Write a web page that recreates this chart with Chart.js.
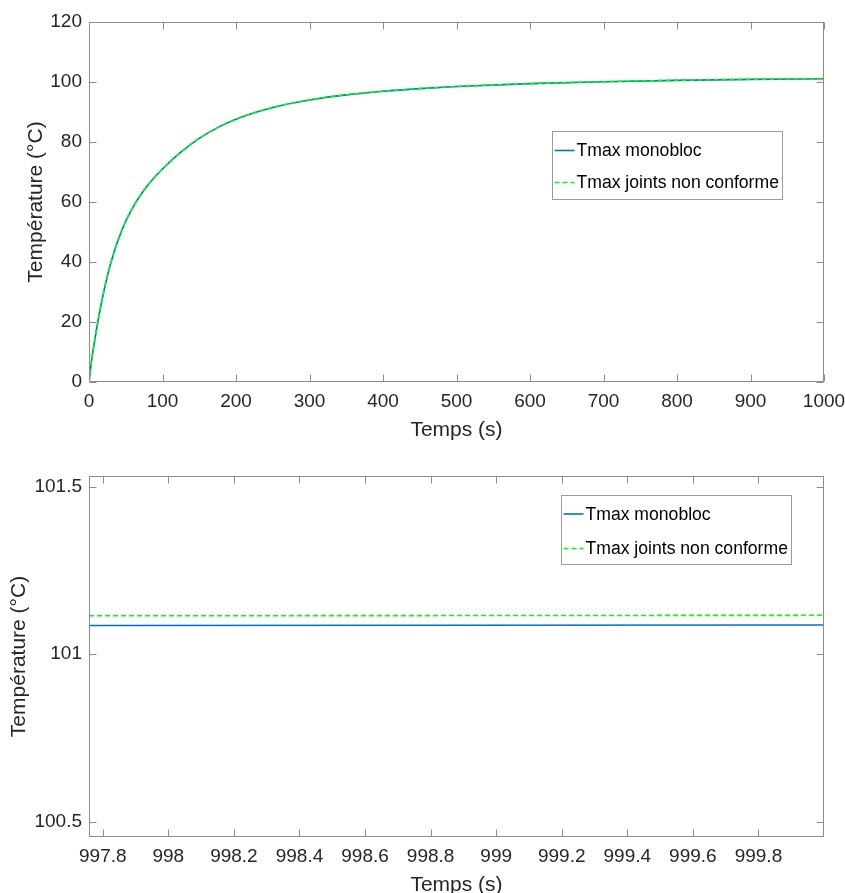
<!DOCTYPE html>
<html>
<head>
<meta charset="utf-8">
<script src="https://cdn.jsdelivr.net/npm/chart.js@4.4.0/dist/chart.umd.min.js"></script>
<style>
  html, body { margin: 0; padding: 0; background: #fff; overflow: hidden; }
  #wrap { position: relative; width: 845px; height: 893px; overflow: hidden; }
  #full { position: absolute; left: 0; top: 0; }
  #zoom { position: absolute; left: 0; top: 445px; }
</style>
</head>
<body>
<div id="wrap">
  <canvas id="full" width="845" height="445"></canvas>
  <canvas id="zoom" width="845" height="465"></canvas>
</div>
<script>
// Tmax over the whole run (time in s, temperature in °C)
const temps = [0, 4, 8, 12, 20, 30, 45, 62, 80, 100, 125, 150, 175, 200, 250, 300, 350, 400, 450, 500, 600, 700, 800, 900, 1000];
const tMonobloc = [0, 8.0, 14.2, 20.0, 30.0, 40.0, 50.8, 59.2, 65.6, 71.0, 76.6, 81.2, 84.8, 87.6, 91.5, 94.0, 95.7, 96.9, 97.8, 98.5, 99.45, 100.1, 100.55, 100.87, 101.087];
const tJoints   = [0, 8.0, 14.2, 20.0, 30.0, 40.0, 50.8, 59.2, 65.6, 71.0, 76.6, 81.2, 84.8, 87.6, 91.5, 94.0, 95.7, 96.9, 97.8, 98.5, 99.45, 100.1, 100.57, 100.9, 101.116];

// last seconds of the run
const zoomTemps = [997.758, 1000];
const zoomMonobloc = [101.0854, 101.0872];
const zoomJoints = [101.1145, 101.1160];

// tick values
const fullXTicks = [0, 100, 200, 300, 400, 500, 600, 700, 800, 900, 1000];
const fullYTicks = [0, 20, 40, 60, 80, 100, 120];
const zoomXTicks = [997.8, 998, 998.2, 998.4, 998.6, 998.8, 999, 999.2, 999.4, 999.6, 999.8];
const zoomYTicks = [100.5, 101, 101.5];

const FONT = "'Liberation Sans', Arial, Helvetica, sans-serif";
const BLUE = '#0072BD';
const GREEN = '#00FF00';
const AXIS = '#8c8c8c';
const TEXT = '#262626';

const pts = (xs, ys) => xs.map((x, i) => ({ x: x, y: ys[i] }));

// box around the plot, inward ticks on all four sides, and a boxed legend
const axesBox = {
  id: 'axesBox',
  afterDatasetsDraw(chart, args, opts) {
    const { ctx, chartArea: a, scales } = chart;
    const L = Math.round(a.left) + 0.5, R = Math.round(a.right) - 0.5;
    const T = Math.round(a.top) + 0.5, B = Math.round(a.bottom) - 0.5;
    const len = 7;
    ctx.save();
    ctx.strokeStyle = AXIS;
    ctx.lineWidth = 1;
    ctx.beginPath();
    scales.x.ticks.forEach((t, i) => {
      const px = Math.round(scales.x.getPixelForTick(i)) + 0.5;
      ctx.moveTo(px, B); ctx.lineTo(px, B - len);
      ctx.moveTo(px, T); ctx.lineTo(px, T + len);
    });
    scales.y.ticks.forEach((t, i) => {
      const py = Math.round(scales.y.getPixelForTick(i)) + 0.5;
      ctx.moveTo(L, py); ctx.lineTo(L + len, py);
      ctx.moveTo(R, py); ctx.lineTo(R - len, py);
    });
    ctx.stroke();
    ctx.strokeRect(L, T, R - L, B - T);

    // legend
    const lx = Math.round(a.left + opts.left) + 0.5;
    const ly = Math.round(a.top + opts.top) + 0.5;
    ctx.font = '17.6px ' + FONT;
    const ds = chart.data.datasets;
    const textW = Math.max(...ds.map(d => ctx.measureText(d.label).width));
    const w = Math.round(24 + textW + 4);
    const h = opts.height;
    ctx.fillStyle = '#fff';
    ctx.fillRect(lx, ly, w, h);
    ctx.strokeStyle = '#9a9a9a';
    ctx.strokeRect(lx, ly, w, h);
    ds.forEach((d, i) => {
      const ry = ly + opts.rows[i];
      ctx.strokeStyle = d.borderColor;
      ctx.lineWidth = d.borderWidth;
      ctx.setLineDash(d.borderDash || []);
      ctx.beginPath();
      ctx.moveTo(lx + 2, ry);
      ctx.lineTo(lx + 22, ry);
      ctx.stroke();
      ctx.setLineDash([]);
      ctx.fillStyle = '#000';
      ctx.textBaseline = 'middle';
      ctx.textAlign = 'left';
      ctx.fillText(d.label, lx + 24, ry + 1);
    });
    ctx.restore();
  }
};

function makeChart(id, cfg) {
  const tickFont = { family: FONT, size: 19 };
  const titleFont = { family: FONT, size: 21 };
  return new Chart(document.getElementById(id), {
    type: 'line',
    data: {
      datasets: [
        {
          label: 'Tmax monobloc',
          data: pts(cfg.xs, cfg.a),
          borderColor: BLUE,
          borderWidth: 1.6,
          pointRadius: 0,
          cubicInterpolationMode: 'monotone',
          order: 2
        },
        {
          label: 'Tmax joints non conforme',
          data: pts(cfg.xs, cfg.b),
          borderColor: GREEN,
          borderWidth: 1.6,
          borderDash: [5, 3],
          pointRadius: 0,
          cubicInterpolationMode: 'monotone',
          order: 1
        }
      ]
    },
    options: {
      responsive: false,
      animation: false,
      devicePixelRatio: 1,
      layout: { padding: { left: 0, right: 21, top: cfg.top, bottom: 0 } },
      plugins: {
        legend: { display: false },
        tooltip: { enabled: false },
        axesBox: cfg.legend
      },
      scales: {
        x: {
          type: 'linear',
          min: cfg.xMin,
          max: cfg.xMax,
          grid: { display: false, drawTicks: false },
          border: { display: false },
          afterBuildTicks: s => { s.ticks = cfg.xTicks.map(v => ({ value: v })); },
          afterFit: s => {
            s.height = cfg.xAxisH;
            s.paddingLeft = 0; s.paddingRight = 0;
          },
          ticks: {
            font: tickFont,
            color: TEXT,
            padding: 8,
            maxRotation: 0,
            autoSkip: false,
            callback: v => String(Number(v.toFixed(1)))
          },
          title: {
            display: true,
            text: 'Temps (s)',
            font: titleFont,
            color: TEXT,
            padding: { top: 0, bottom: cfg.xTitlePad }
          }
        },
        y: {
          type: 'linear',
          min: cfg.yMin,
          max: cfg.yMax,
          grid: { display: false, drawTicks: false },
          border: { display: false },
          afterBuildTicks: s => { s.ticks = cfg.yTicks.map(v => ({ value: v })); },
          afterFit: s => {
            s.width = 89;
            s.paddingTop = 0; s.paddingBottom = 0;
          },
          ticks: {
            font: tickFont,
            color: TEXT,
            padding: 7,
            autoSkip: false,
            callback: v => String(Number(v.toFixed(1)))
          },
          title: {
            display: true,
            text: 'Température (°C)',
            font: titleFont,
            color: TEXT,
            padding: { top: cfg.yTitlePad, bottom: 0 }
          }
        }
      }
    },
    plugins: [axesBox]
  });
}

makeChart('full', {
  xs: temps, a: tMonobloc, b: tJoints,
  xMin: 0, xMax: 1000, yMin: 0, yMax: 120,
  xTicks: fullXTicks, yTicks: fullYTicks,
  top: 22, xAxisH: 63, xTitlePad: 2.4, yTitlePad: 23.4,
  legend: { left: 463, top: 109, height: 68, rows: [19, 51] }
});

makeChart('zoom', {
  xs: zoomTemps, a: zoomMonobloc, b: zoomJoints,
  xMin: 997.758, xMax: 1000, yMin: 100.454, yMax: 101.532,
  xTicks: zoomXTicks, yTicks: zoomYTicks,
  top: 31, xAxisH: 73, xTitlePad: 12.4, yTitlePad: 6.8,
  legend: { left: 472, top: 19, height: 69, rows: [18.5, 53] }
});
</script>
</body>
</html>
